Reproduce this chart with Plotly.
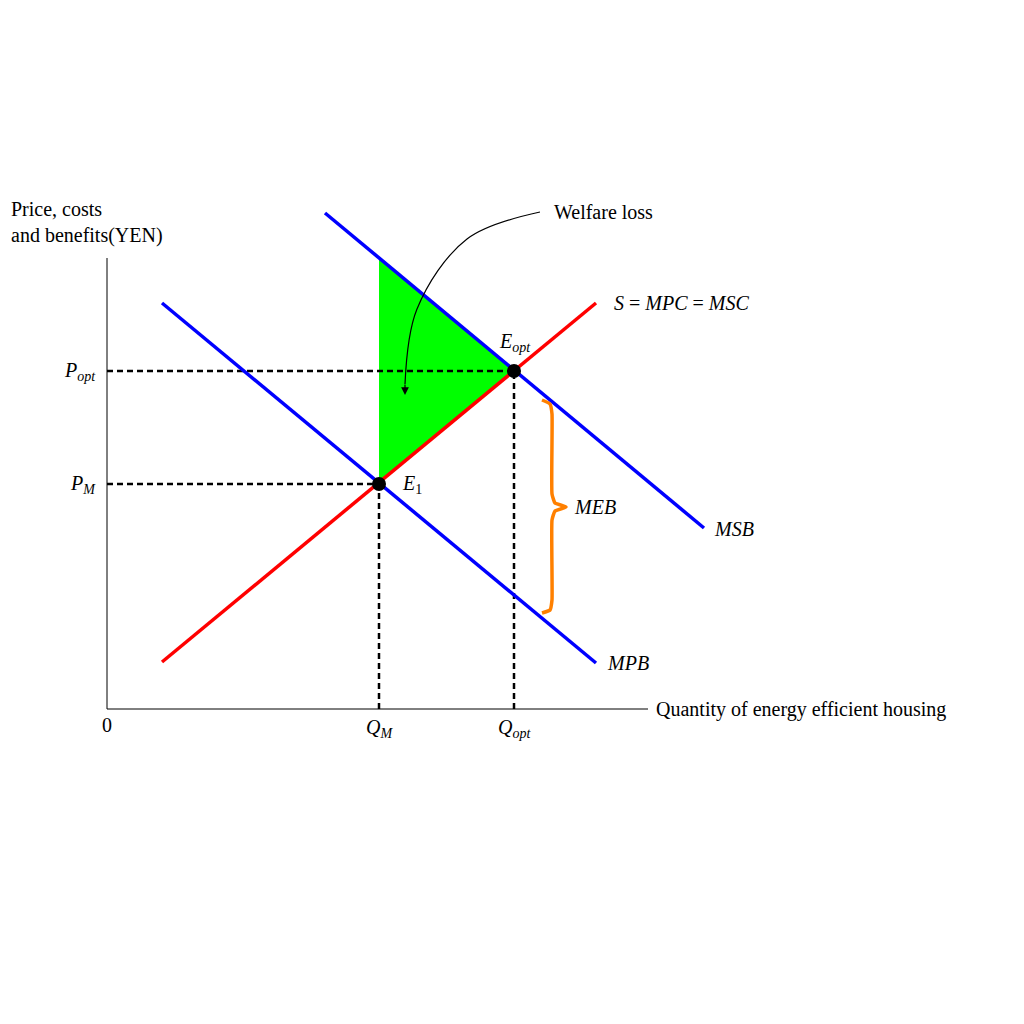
import plotly.graph_objects as go

# units: origin of diagram at (0, 0); 1 unit = 10 px
mpb_x = [5.5, 48.9]
mpb_y = [40.6, 4.6]
s_x = [5.5, 48.9]
s_y = [4.7, 40.6]
msb_x = [21.8, 59.7]
msb_y = [49.6, 18.1]
q_m, p_m = 27.2, 22.5
q_opt, p_opt = 40.7, 33.8
welfare_x = [27.2, 27.2, 40.7, 27.2]
welfare_y = [45.1, 22.5, 33.8, 45.1]
brace_x = [43.5, 44.3, 44.5, 44.5, 44.8, 45.9, 44.8, 44.5, 44.5, 44.3, 43.5]
brace_y = [30.9, 30.5, 29.5, 21.5, 20.6, 20.2, 19.8, 18.9, 10.9, 9.9, 9.6]
curve_x = [43.3, 36.0, 31.0, 29.8]
curve_y = [49.7, 47.0, 40.0, 32.5]

FONT = "Liberation Serif"
fig = go.Figure()
fig.add_trace(go.Scatter(x=welfare_x, y=welfare_y, fill="toself", fillcolor="#00ff00",
                         line=dict(width=0), mode="lines"))
fig.add_trace(go.Scatter(x=[0, 54.1], y=[0, 0], mode="lines", line=dict(color="black", width=1)))
fig.add_trace(go.Scatter(x=[0, 0], y=[0, 45.1], mode="lines", line=dict(color="black", width=1)))
for xs, ys in [([0, q_m], [p_m, p_m]), ([q_m, q_m], [0, p_m]),
               ([0, q_opt], [p_opt, p_opt]), ([q_opt, q_opt], [0, p_opt])]:
    fig.add_trace(go.Scatter(x=xs, y=ys, mode="lines", line=dict(color="black", width=2.5, dash="6px,4px")))
fig.add_trace(go.Scatter(x=mpb_x, y=mpb_y, mode="lines", line=dict(color="#0000ff", width=3.5)))
fig.add_trace(go.Scatter(x=msb_x, y=msb_y, mode="lines", line=dict(color="#0000ff", width=3.5)))
fig.add_trace(go.Scatter(x=s_x, y=s_y, mode="lines", line=dict(color="#ff0000", width=3.5)))
fig.add_trace(go.Scatter(x=brace_x, y=brace_y, mode="lines", line=dict(color="#ff8000", width=3.5, shape="spline", smoothing=0.4)))
fig.add_trace(go.Scatter(x=curve_x, y=curve_y, mode="lines", line=dict(color="black", width=1.2, shape="spline")))
fig.add_trace(go.Scatter(x=[q_m, q_opt], y=[p_m, p_opt], mode="markers", marker=dict(color="black", size=14)))

ann = [
    (50.5, 40.6, "<i>S</i> = <i>MPC</i> = <i>MSC</i>", "left"),
    (60.5, 18.0, "<i>MSB</i>", "left"),
    (48.9, 4.6, "  <i>MPB</i>", "left"),
    (44.5, 49.7, "Welfare loss", "left"),
    (54.7, 0.0, "Quantity of energy efficient housing", "left"),
    (46.5, 20.2, "<i>MEB</i>", "left"),
    (40.8, 36.7, "<i>E<sub>opt</sub></i>", "center"),
    (29.3, 22.5, "<i>E</i><sub>1</sub>", "left"),
    (-0.9, p_opt, "<i>P<sub>opt</sub></i>", "right"),
    (-0.9, p_m, "<i>P<sub>M</sub></i>", "right"),
    (q_m, -1.9, "<i>Q<sub>M</sub></i>", "center"),
    (q_opt, -1.9, "<i>Q<sub>opt</sub></i>", "center"),
    (0, -1.6, "0", "center"),
]
annotations = [dict(x=x, y=y, text=t, xanchor=a, yanchor="middle", showarrow=False,
                    font=dict(family=FONT, size=20, color="black")) for x, y, t, a in ann]
annotations.append(dict(x=-9.8, y=46.0, text="Price, costs<br>and benefits(YEN)", align="left",
                        xanchor="left", yanchor="bottom", showarrow=False,
                        font=dict(family=FONT, size=20, color="black")))
annotations.append(dict(x=-10.2, y=-9.0, text="Figure 1: <b>Positive consumption externality in the energy efficient hous-</b><br><b>ing market</b>",
                        align="left", xanchor="left", yanchor="middle", showarrow=False,
                        font=dict(family=FONT, size=20, color="black")))
annotations.append(dict(x=29.8, y=31.4, ax=29.8, ay=32.6, xref="x", yref="y", axref="x", ayref="y",
                        text="", showarrow=True, arrowhead=2, arrowsize=1.3, arrowwidth=1.2, arrowcolor="black"))

fig.update_layout(width=1024, height=1024, margin=dict(l=0, r=0, t=0, b=0),
                  plot_bgcolor="white", paper_bgcolor="white", showlegend=False,
                  annotations=annotations,
                  xaxis=dict(range=[-9.9, 92.5], visible=False),
                  yaxis=dict(range=[-32.3, 70.1], visible=False))
fig.write_html("out.html")
